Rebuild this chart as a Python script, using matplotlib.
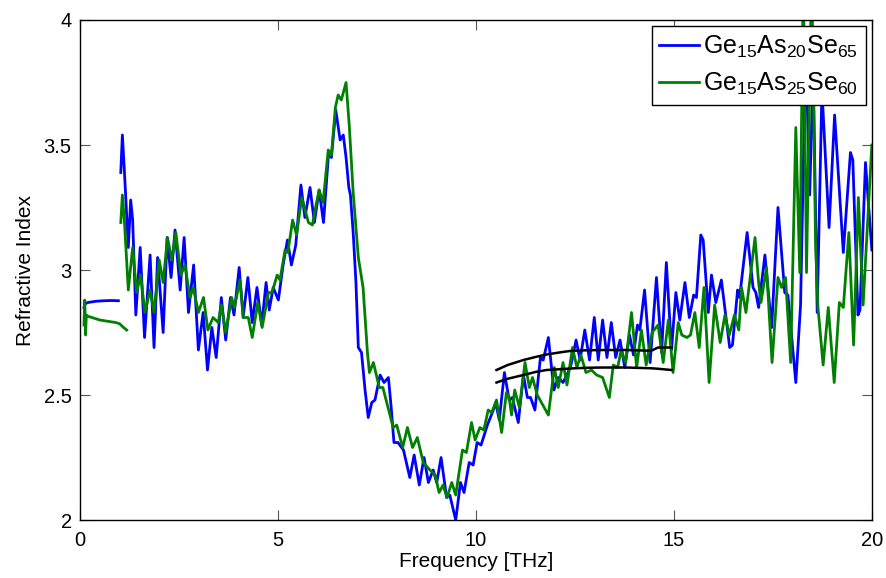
import matplotlib
matplotlib.use("Agg")
import matplotlib.pyplot as plt
from matplotlib.ticker import FuncFormatter

plt.rcParams['font.family'] = ['Liberation Sans', 'DejaVu Sans']
plt.rcParams['mathtext.fontset'] = 'custom'
plt.rcParams['mathtext.rm'] = 'Liberation Sans'
plt.rcParams['mathtext.it'] = 'Liberation Sans'

# ---- data ----
blue_low_f = [0.10, 0.13, 0.20, 0.40, 0.60, 0.80, 0.97]
blue_low_n = [2.85, 2.865, 2.87, 2.875, 2.877, 2.878, 2.877]

green_low_f = [0.10, 0.12, 0.14, 0.16, 0.20, 0.30, 0.50, 0.70, 0.90, 1.00, 1.10, 1.18]
green_low_n = [2.78, 2.88, 2.74, 2.82, 2.815, 2.81, 2.80, 2.795, 2.79, 2.785, 2.77, 2.76]

blue_f = [1.03, 1.07, 1.12, 1.22, 1.28, 1.33, 1.41, 1.52, 1.63, 1.77, 1.87, 1.96, 2.10, 2.20,
          2.30, 2.40, 2.53, 2.63, 2.74, 2.87, 2.99, 3.11, 3.22, 3.33, 3.44, 3.57, 3.68, 3.80,
          3.89, 4.02, 4.12, 4.24, 4.35, 4.47, 4.59, 4.70, 4.78, 4.88, 5.01, 5.13, 5.24, 5.34,
          5.45, 5.58, 5.68, 5.81, 5.92, 6.04, 6.15, 6.28, 6.35, 6.46, 6.57, 6.65, 6.72, 6.79,
          6.83, 6.90, 6.97, 7.03, 7.11, 7.20, 7.28, 7.37, 7.45, 7.58, 7.68, 7.79, 7.86, 7.93,
          8.03, 8.17, 8.33, 8.44, 8.57, 8.69, 8.80, 8.92, 9.01, 9.12, 9.26, 9.34, 9.49, 9.61,
          9.70, 9.83, 9.93, 10.03, 10.13, 10.29, 10.44, 10.50, 10.59, 10.72, 10.84, 10.92,
          11.07, 11.20, 11.30, 11.38, 11.49, 11.63, 11.70, 11.83, 11.97, 12.08, 12.20, 12.30,
          12.40, 12.53, 12.63, 12.75, 12.87, 12.99, 13.09, 13.20, 13.31, 13.42, 13.53, 13.64,
          13.76, 13.88, 13.98, 14.08, 14.14, 14.26, 14.40, 14.56, 14.69, 14.81, 14.94, 15.05,
          15.15, 15.28, 15.39, 15.50, 15.57, 15.68, 15.74, 15.87, 15.95, 16.06, 16.20, 16.41,
          16.48, 16.61, 16.66, 16.85, 17.00, 17.07, 17.14, 17.30, 17.47, 17.63, 17.80, 17.88,
          18.08, 18.20, 18.33, 18.43, 18.52, 18.62, 18.74, 18.92, 19.06, 19.28, 19.46, 19.52,
          19.65, 19.70, 19.84, 20.00]
blue_n = [3.39, 3.54, 3.40, 3.09, 3.28, 3.20, 2.82, 3.09, 2.73, 3.06, 2.69, 3.05, 2.75, 3.13,
          2.97, 3.16, 2.92, 3.13, 2.83, 3.02, 2.68, 2.83, 2.60, 2.77, 2.65, 2.89, 2.72, 2.89,
          2.82, 3.01, 2.81, 2.97, 2.79, 2.93, 2.78, 2.95, 2.84, 2.93, 2.88, 3.02, 3.12, 3.02,
          3.10, 3.34, 3.21, 3.33, 3.19, 3.32, 3.19, 3.47, 3.45, 3.64, 3.52, 3.54, 3.45, 3.33,
          3.30, 3.15, 2.95, 2.69, 2.67, 2.52, 2.41, 2.47, 2.48, 2.58, 2.55, 2.57, 2.45, 2.31,
          2.31, 2.28, 2.17, 2.26, 2.14, 2.25, 2.15, 2.20, 2.15, 2.25, 2.09, 2.10, 2.00, 2.15,
          2.11, 2.23, 2.22, 2.31, 2.30, 2.38, 2.44, 2.47, 2.40, 2.59, 2.48, 2.49,
          2.39, 2.58, 2.49, 2.49, 2.44, 2.65, 2.64, 2.73, 2.52, 2.57, 2.55, 2.58,
          2.62, 2.72, 2.64, 2.76, 2.64, 2.81, 2.64, 2.80, 2.65, 2.79, 2.65, 2.72,
          2.61, 2.74, 2.66, 2.78, 2.76, 2.92, 2.63, 2.97, 2.67, 3.03, 2.68, 2.91,
          2.80, 2.95, 2.81, 2.90, 2.89, 3.14, 3.12, 2.83, 2.98, 2.87, 2.96, 2.69,
          2.70, 2.92, 2.89, 3.15, 2.93, 2.91, 2.85, 3.06, 2.77, 3.25, 2.91, 2.90,
          2.55, 2.86, 3.90, 3.30, 3.80, 2.83, 3.72, 3.17, 3.62, 3.07, 3.47, 3.44,
          2.82, 2.84, 3.43, 3.08]

green_f = [1.03, 1.07, 1.12, 1.22, 1.33, 1.43, 1.53, 1.64, 1.77, 1.87, 2.00, 2.10, 2.21, 2.32,
           2.42, 2.55, 2.65, 2.78, 2.86, 2.99, 3.12, 3.23, 3.36, 3.49, 3.57, 3.68, 3.83, 3.90,
           4.04, 4.13, 4.25, 4.35, 4.49, 4.60, 4.76, 4.85, 4.98, 5.05, 5.18, 5.25, 5.37, 5.47,
           5.60, 5.77, 5.87, 5.95, 6.04, 6.14, 6.27, 6.35, 6.45, 6.52, 6.60, 6.72, 6.80, 6.90,
           6.97, 7.03, 7.15, 7.26, 7.31, 7.41, 7.56, 7.65, 7.91, 8.00, 8.15, 8.27, 8.40, 8.52,
           8.67, 8.84, 8.97, 9.07, 9.17, 9.27, 9.39, 9.49, 9.66, 9.76, 9.89, 9.98, 10.10, 10.20,
           10.31, 10.40, 10.52, 10.65, 10.77, 10.84, 10.90, 10.98, 11.10, 11.24, 11.35, 11.43,
           11.55, 11.83, 11.98, 12.08, 12.20, 12.30, 12.44, 12.55, 12.65, 12.78, 12.92, 13.05,
           13.20, 13.37, 13.47, 13.58, 13.67, 13.78, 13.93, 14.06, 14.18, 14.30, 14.45, 14.60,
           14.73, 14.86, 14.98, 15.11, 15.20, 15.33, 15.42, 15.53, 15.64, 15.76, 15.89, 16.03,
           16.17, 16.29, 16.40, 16.53, 16.64, 16.71, 16.82, 17.05, 17.14, 17.20, 17.34, 17.48,
           17.63, 17.72, 17.82, 17.95, 18.08, 18.18, 18.27, 18.35, 18.48, 18.58, 18.64, 18.77,
           18.90, 19.05, 19.18, 19.28, 19.42, 19.54, 19.66, 19.78, 20.00]
green_n = [3.19, 3.30, 3.20, 2.92, 3.09, 2.91, 2.98, 2.83, 2.92, 2.83, 3.04, 2.95, 3.13, 3.04,
           3.15, 2.98, 3.02, 2.89, 2.93, 2.83, 2.89, 2.76, 2.81, 2.79, 2.86, 2.75, 2.89, 2.85,
           2.96, 2.81, 2.81, 2.73, 2.87, 2.77, 2.91, 2.91, 2.98, 2.96, 3.08, 3.07, 3.20, 3.14,
           3.29, 3.19, 3.18, 3.25, 3.32, 3.27, 3.48, 3.46, 3.65, 3.70, 3.68, 3.75, 3.58, 3.31,
           3.17, 3.05, 2.93, 2.67, 2.59, 2.63, 2.53, 2.53, 2.37, 2.38, 2.29, 2.37, 2.29, 2.33,
           2.23, 2.20, 2.18, 2.11, 2.14, 2.09, 2.15, 2.10, 2.28, 2.27, 2.39, 2.32, 2.37, 2.36,
           2.44, 2.43, 2.48, 2.35, 2.51, 2.49, 2.42, 2.52, 2.45, 2.63, 2.53, 2.57,
           2.50, 2.42, 2.61, 2.53, 2.63, 2.54, 2.69, 2.61, 2.66, 2.59, 2.60, 2.58,
           2.57, 2.49, 2.62, 2.61, 2.68, 2.63, 2.83, 2.61, 2.76, 2.62, 2.75, 2.78,
           2.63, 2.80, 2.59, 2.79, 2.74, 2.73, 2.74, 2.83, 2.69, 2.93, 2.55, 2.86,
           2.71, 2.82, 2.74, 2.82, 2.76, 2.93, 2.83, 3.13, 2.95, 2.87, 3.01, 2.63,
           2.97, 2.93, 2.97, 2.63, 3.57, 2.99, 4.20, 2.99, 4.20, 3.10, 2.85, 2.62,
           2.85, 2.55, 2.87, 2.85, 3.15, 2.70, 3.29, 2.86, 3.50]

fit_f = [10.52, 10.8, 11.2, 11.5, 11.78, 12.1, 12.37, 12.8, 13.2, 13.8, 14.43, 14.6, 14.95]
fit_upper_n = [2.60, 2.62, 2.64, 2.652, 2.662, 2.67, 2.676, 2.679, 2.68, 2.68, 2.677, 2.69, 2.69]
fit_lower_n = [2.55, 2.565, 2.58, 2.592, 2.60, 2.603, 2.606, 2.609, 2.61, 2.61, 2.607, 2.605, 2.60]

x_ticks = [0, 5, 10, 15, 20]
y_ticks = [2, 2.5, 3, 3.5, 4]

blue = (0, 0, 1)
green = (0, 0.5, 0)

fig = plt.figure(figsize=(8.86, 5.78), dpi=100)
ax = fig.add_axes([0.0903, 0.1003, 0.8937, 0.8651])

ax.plot(blue_low_f, blue_low_n, color=blue, lw=2.0)
lb, = ax.plot(blue_f, blue_n, color=blue, lw=2.0, label=r'Ge$_{\mathregular{15}}$As$_{\mathregular{20}}$Se$_{\mathregular{65}}$')
ax.plot(green_low_f, green_low_n, color=green, lw=2.0)
lg, = ax.plot(green_f, green_n, color=green, lw=2.0, label=r'Ge$_{\mathregular{15}}$As$_{\mathregular{25}}$Se$_{\mathregular{60}}$')
ax.plot(fit_f, fit_upper_n, color='black', lw=1.8)
ax.plot(fit_f, fit_lower_n, color='black', lw=1.8)

ax.set_xlim(0, 20)
ax.set_ylim(2, 4)
ax.set_xticks(x_ticks)
ax.set_yticks(y_ticks)
fmt = FuncFormatter(lambda v, p: ('%g' % v))
ax.yaxis.set_major_formatter(fmt)
ax.xaxis.set_major_formatter(fmt)
ax.tick_params(axis='both', direction='in', length=7, width=0.8, color='#555555', labelsize=14.5,
               top=True, right=True)
ax.tick_params(axis='x', pad=8)
ax.tick_params(axis='y', pad=6)
for s in ax.spines.values():
    s.set_linewidth(1.0)
    s.set_color('black')

ax.set_xlabel('Frequency [THz]', fontsize=15, labelpad=1)
ax.set_ylabel('Refractive Index', fontsize=15, labelpad=6)

leg = ax.legend(handles=[lb, lg], loc='upper right', fontsize=18, frameon=True, fancybox=False,
                edgecolor='black', framealpha=1, borderaxespad=0.25, handlelength=1.6,
                handletextpad=0.15, borderpad=0.3, labelspacing=0.45)
leg.get_frame().set_linewidth(1.0)

fig.savefig('out.png', dpi=100)
